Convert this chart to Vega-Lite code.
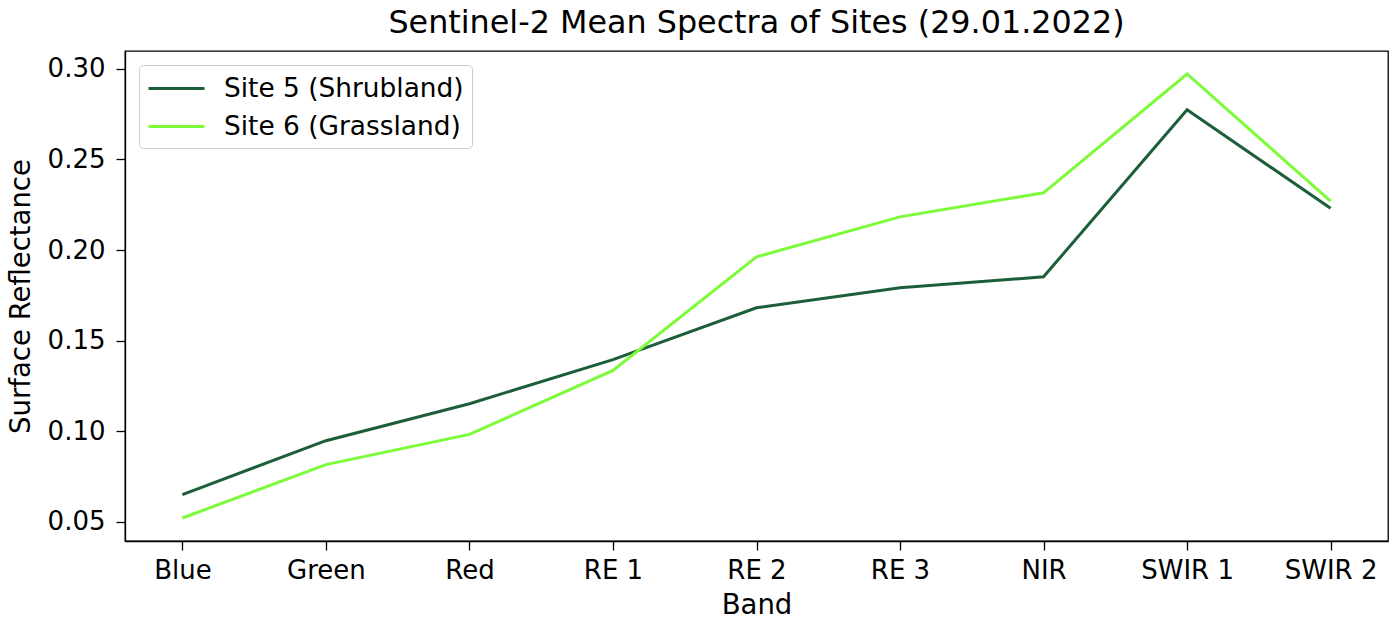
{
  "$schema": "https://vega.github.io/schema/vega-lite/v6.json",
  "width": 1263,
  "height": 490,
  "autosize": {"type": "none"},
  "padding": {"left": 125, "top": 51, "right": 3, "bottom": 79},
  "background": "white",
  "title": {"text": "Sentinel-2 Mean Spectra of Sites (29.01.2022)", "font": "DejaVu Sans", "fontSize": 31.8, "fontWeight": "normal", "color": "#000000", "anchor": "middle", "offset": 11},
  "config": {
    "view": {"stroke": "#000000", "strokeWidth": 1.3},
    "axis": {"grid": false, "domainColor": "#000000", "domainWidth": 1.3, "tickColor": "#000000", "labelColor": "#000000", "titleColor": "#000000", "labelFont": "DejaVu Sans", "titleFont": "DejaVu Sans", "labelFontSize": 26, "titleFontSize": 27.5, "titleFontWeight": "normal", "tickSize": 9, "tickWidth": 1.3}
  },
  "data": {"values": [
    {"band": "Blue", "site": "Site 5 (Shrubland)", "value": 0.0649},
    {"band": "Green", "site": "Site 5 (Shrubland)", "value": 0.0947},
    {"band": "Red", "site": "Site 5 (Shrubland)", "value": 0.1151},
    {"band": "RE 1", "site": "Site 5 (Shrubland)", "value": 0.1395},
    {"band": "RE 2", "site": "Site 5 (Shrubland)", "value": 0.1681},
    {"band": "RE 3", "site": "Site 5 (Shrubland)", "value": 0.1791},
    {"band": "NIR", "site": "Site 5 (Shrubland)", "value": 0.1852},
    {"band": "SWIR 1", "site": "Site 5 (Shrubland)", "value": 0.2775},
    {"band": "SWIR 2", "site": "Site 5 (Shrubland)", "value": 0.2230},
    {"band": "Blue", "site": "Site 6 (Grassland)", "value": 0.0520},
    {"band": "Green", "site": "Site 6 (Grassland)", "value": 0.0815},
    {"band": "Red", "site": "Site 6 (Grassland)", "value": 0.0982},
    {"band": "RE 1", "site": "Site 6 (Grassland)", "value": 0.1335},
    {"band": "RE 2", "site": "Site 6 (Grassland)", "value": 0.1962},
    {"band": "RE 3", "site": "Site 6 (Grassland)", "value": 0.2183},
    {"band": "NIR", "site": "Site 6 (Grassland)", "value": 0.2316},
    {"band": "SWIR 1", "site": "Site 6 (Grassland)", "value": 0.2972},
    {"band": "SWIR 2", "site": "Site 6 (Grassland)", "value": 0.2270}
  ]},
  "mark": {"type": "line", "strokeWidth": 3},
  "encoding": {
    "x": {"field": "band", "type": "ordinal", "sort": ["Blue", "Green", "Red", "RE 1", "RE 2", "RE 3", "NIR", "SWIR 1", "SWIR 2"], "scale": {"type": "point", "padding": 0.4}, "axis": {"title": "Band", "labelAngle": 0, "labelPadding": 7, "titlePadding": 8}},
    "y": {"field": "value", "type": "quantitative", "scale": {"domain": [0.0393, 0.3099], "nice": false, "zero": false}, "axis": {"title": "Surface Reflectance", "values": [0.05, 0.1, 0.15, 0.2, 0.25, 0.3], "format": ".2f", "labelPadding": 11, "titlePadding": 12}},
    "color": {"field": "site", "type": "nominal", "scale": {"domain": ["Site 5 (Shrubland)", "Site 6 (Grassland)"], "range": ["#1d5e3a", "#7cfc38"]},
      "legend": {"title": null, "orient": "top-left", "offset": 14, "symbolType": "M-1,0H3", "symbolSize": 784, "symbolStrokeWidth": 3, "labelFont": "DejaVu Sans", "labelFontSize": 26.4, "labelColor": "#000000", "labelOffset": 46, "labelLimit": 0, "rowPadding": 9, "padding": 8, "strokeColor": "#cccccc", "fillColor": "white", "cornerRadius": 4}}
  }
}
